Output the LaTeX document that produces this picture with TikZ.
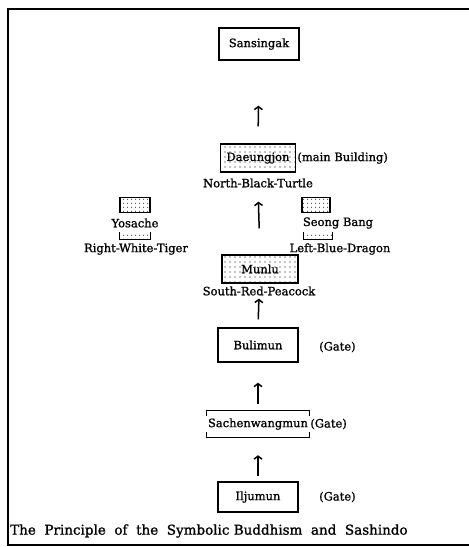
\documentclass[tikz,border=0pt]{standalone}
\usepackage{fontspec}
\setmainfont{DejaVu Serif}[FakeBold=1.2]
\usetikzlibrary{arrows.meta,patterns.meta}
\begin{document}
\begin{tikzpicture}[x=1pt,y=-1pt,
	font=\fontsize{11.5}{14}\selectfont,
	hall/.style={draw,line width=1.4pt,minimum width=80pt,minimum height=32pt,inner sep=0pt},
	dotted hall/.style={hall,pattern={Dots[distance=5pt,radius=0.6pt]}},
	tile/.style={draw,line width=1.3pt,pattern={Dots[distance=4pt,radius=0.55pt]},minimum width=30pt,minimum height=15pt,inner sep=0pt},
	lbl/.style={draw=none,inner sep=1pt},
	up/.style={line width=1.5pt,-{Straight Barb[length=3pt,width=8pt,line width=1.5pt]}}]
\useasboundingbox (0,0) rectangle (469,547);

\path (259,44) node[hall] (sansingak) {Sansingak};
\path (258,158) node[dotted hall,minimum width=75pt,minimum height=28pt] (daeungjon) {Daeungjon};
\path (daeungjon.east) node[lbl,anchor=west] (mainbldg) {(main Building)};
\path (258,183) node[lbl] (north) {North-Black-Turtle};

\path (135,205) node[tile] (yotop) {};
\path (135,223) node[lbl] (yosache) {Yosache};
\path (135,236) node[tile,minimum height=6pt,draw=none] (yobot) {};
\path (136,249) node[lbl] (rwt) {Right-White-Tiger};

\path (316,205) node[tile,minimum width=28pt] (sbtop) {};
\path (338,223) node[lbl] (seongbang) {Seong Bang};
\path (318,236) node[tile,minimum width=28pt,minimum height=6pt,draw=none] (sbbot) {};
\path (340,249) node[lbl] (lbd) {Left-Blue-Dragon};

\draw[line width=1.3pt] (yobot.north west) -- (yobot.south west) -- (yobot.south east) -- (yobot.north east);
\draw[line width=1.3pt] (sbbot.north west) -- (sbbot.south west) -- (sbbot.south east) -- (sbbot.north east);

\path (260,269) node[dotted hall,minimum width=76pt,minimum height=28pt] (munlu) {Munlu};
\path (259,291) node[lbl] (srp) {South-Red-Peacock};

\path (258,345) node[hall,minimum height=34pt] (bulimun) {Bulimun};
\path (318,347) node[lbl,anchor=west] (gate1) {(Gate)};

\path (258,424) node[lbl,minimum width=86pt,minimum height=26pt] (sachen) {Sachenwangmun};
\path (sachen.east) node[lbl,anchor=west] (gate2) {(Gate)};
\draw[line width=1.3pt] ([yshift=-5pt]sachen.north west) -- (sachen.north west) -- (sachen.north east) -- ([yshift=-5pt]sachen.north east);
\draw[line width=1.3pt] ([yshift=5pt]sachen.south west) -- (sachen.south west) -- (sachen.south east) -- ([yshift=5pt]sachen.south east);

\path (258,497) node[hall,minimum height=30pt] (iljumun) {Iljumun};
\path (318,497) node[lbl,anchor=west] (gate3) {(Gate)};

\draw[up,shorten <=17pt,shorten >=45pt] (daeungjon.north) -- (sansingak.south);
\draw[up,shorten <=26pt,shorten >=13pt] (munlu.north) -- (north.south);
\draw[up,shorten <=8pt,shorten >=2pt] (bulimun.north) -- (srp.south);
\draw[up,shorten <=7pt,shorten >=20pt] (sachen.north) -- (bulimun.south);
\draw[up,shorten <=5pt,shorten >=18pt] (iljumun.north) -- (sachen.south);

\path (9,531) node[lbl,anchor=west,font=\fontsize{13.5}{16}\selectfont] (caption) {The\ \ Principle\ \ of\ \ the\ \ Symbolic Buddhism\ \ and\ \ Sashindo};

\draw[line width=2.5pt] (469,9) -- (8,9) -- (8,545) -- (469,545);
\end{tikzpicture}
\end{document}
